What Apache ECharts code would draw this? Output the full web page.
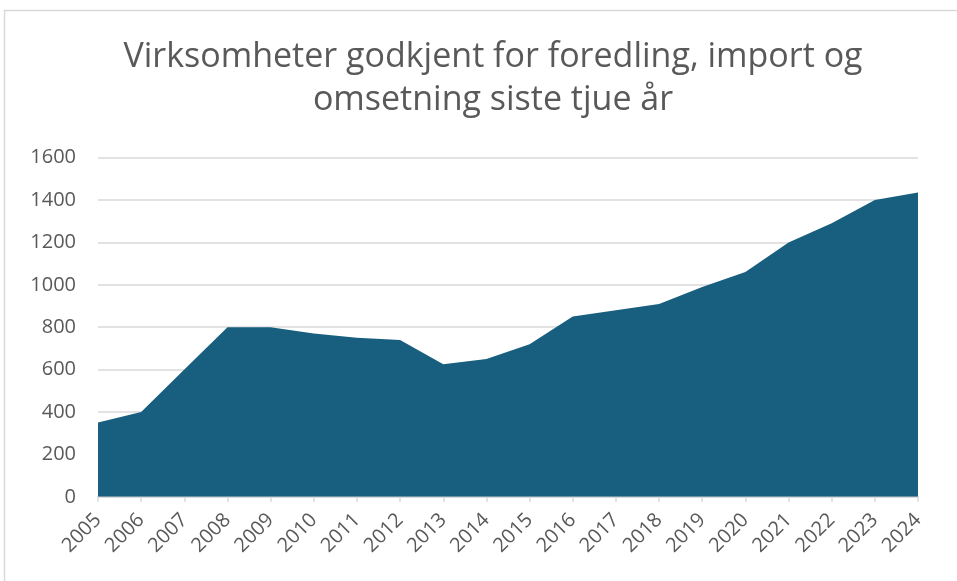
<!DOCTYPE html>
<html><head><meta charset="utf-8">
<script src="https://cdn.jsdelivr.net/npm/echarts@6/dist/echarts.min.js"></script>
<style>html,body{margin:0;padding:0;background:#fff}#c{width:957px;height:581px}</style>
</head><body><div id="c"></div>
<script>
const titleText = 'Virksomheter godkjent for foredling, import og\nomsetning siste tjue år';
const years = ['2005','2006','2007','2008','2009','2010','2011','2012','2013','2014','2015','2016','2017','2018','2019','2020','2021','2022','2023','2024'];
const values = [350,400,600,800,800,770,750,740,625,650,720,850,880,910,990,1060,1200,1290,1400,1435];
const yMin = 0, yMax = 1600, yStep = 200;

const chart = echarts.init(document.getElementById('c'), null, {renderer:'canvas'});
chart.setOption({
  animation:false,
  backgroundColor:'#fff',
  graphic:[{type:'rect', shape:{x:4.5,y:10.5,width:1000,height:700}, style:{fill:'none',stroke:'#d9d9d9',lineWidth:1.5}, silent:true}],
  title:{text:titleText, left:488, textAlign:'center', top:31,
    textStyle:{fontFamily:'Open Sans', fontWeight:'normal', fontSize:34, color:'#595959', lineHeight:43}},
  grid:{left:98, right:39, top:157.6, bottom:84.2, containLabel:false},
  xAxis:{type:'category', data:years, boundaryGap:false,
    axisLine:{lineStyle:{color:'#d9d9d9', width:1.5}},
    axisTick:{show:true, length:5, lineStyle:{color:'#d9d9d9', width:1.5}},
    axisLabel:{rotate:45, color:'#595959', fontFamily:'Open Sans', fontSize:20, margin:20}},
  yAxis:{type:'value', min:yMin, max:yMax, interval:yStep,
    axisLine:{show:false}, axisTick:{show:false},
    splitLine:{lineStyle:{color:'#d9d9d9', width:1.5}},
    axisLabel:{color:'#595959', fontFamily:'Open Sans', fontSize:20, margin:22, formatter:v=>String(v)}},
  series:[{type:'line', data:values, symbol:'none', lineStyle:{width:0},
    areaStyle:{color:'#185f7f', opacity:1}}]
});
</script></body></html>
